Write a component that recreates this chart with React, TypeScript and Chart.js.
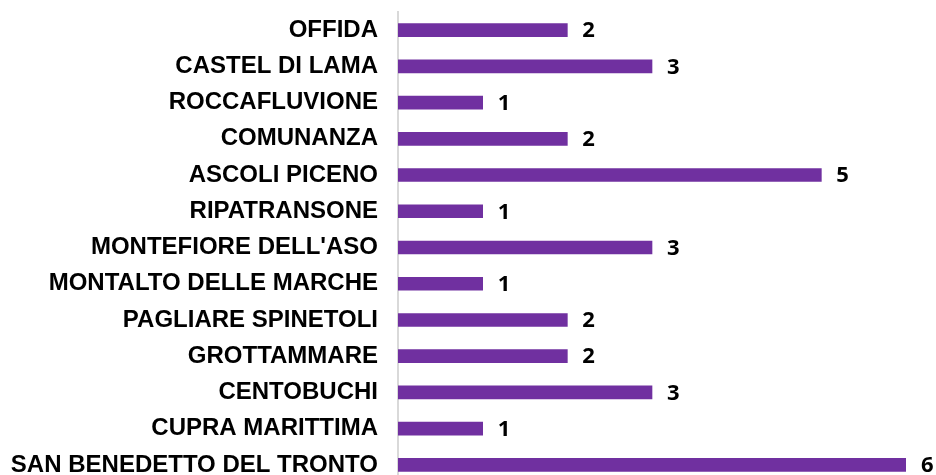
import React, { useEffect, useRef } from "react";
import { Chart, registerables } from "chart.js";

Chart.register(...registerables);

const categories = [
  "OFFIDA",
  "CASTEL DI LAMA",
  "ROCCAFLUVIONE",
  "COMUNANZA",
  "ASCOLI PICENO",
  "RIPATRANSONE",
  "MONTEFIORE DELL'ASO",
  "MONTALTO DELLE MARCHE",
  "PAGLIARE SPINETOLI",
  "GROTTAMMARE",
  "CENTOBUCHI",
  "CUPRA MARITTIMA",
  "SAN BENEDETTO DEL TRONTO",
];
const values = [2, 3, 1, 2, 5, 1, 3, 1, 2, 2, 3, 1, 6];
const axisMin = 0;
const axisMax = 6;

const valueLabels = {
  id: "valueLabels",
  afterDatasetsDraw(chart: any) {
    const ctx = chart.ctx;
    const meta = chart.getDatasetMeta(0);
    ctx.save();
    ctx.font = "bold 22px 'Liberation Sans Narrow', 'Open Sans', sans-serif";
    ctx.fillStyle = "#000000";
    ctx.textAlign = "left";
    ctx.textBaseline = "middle";
    meta.data.forEach((bar: any, i: number) => {
      ctx.fillText(String(values[i]), bar.x + 15, bar.y + 1);
    });
    ctx.restore();
  },
};

export default function App() {
  const ref = useRef<HTMLCanvasElement | null>(null);
  useEffect(() => {
    document.body.style.margin = "0";
    const chart = new Chart(ref.current as HTMLCanvasElement, {
      type: "bar",
      data: {
        labels: categories,
        datasets: [
          {
            data: values,
            backgroundColor: "#7030A0",
            barThickness: 13,
          },
        ],
      },
      options: {
        indexAxis: "y",
        animation: false,
        responsive: false,
        maintainAspectRatio: false,
        layout: { padding: { top: 12, bottom: 12, right: 30, left: 0 } },
        plugins: { legend: { display: false }, tooltip: { enabled: false } },
        scales: {
          x: { display: false, min: axisMin, max: axisMax },
          y: {
            grid: { display: false },
            border: { display: true, color: "#d9d9d9", width: 2 },
            ticks: {
              color: "#000000",
              padding: 12,
              autoSkip: false,
              font: { family: "'Liberation Sans', Arial, sans-serif", weight: "bold", size: 24 },
            },
            afterFit(scale: any) {
              scale.width = 398;
              scale.paddingTop = 0;
              scale.paddingBottom = 0;
            },
          },
        },
      },
      plugins: [valueLabels],
    });
    return () => chart.destroy();
  }, []);
  return (
    <div style={{ width: 936, height: 475, overflow: "hidden", position: "relative" }}>
      <canvas ref={ref} width={936} height={495} style={{ width: 936, height: 495, display: "block" }} />
    </div>
  );
}
